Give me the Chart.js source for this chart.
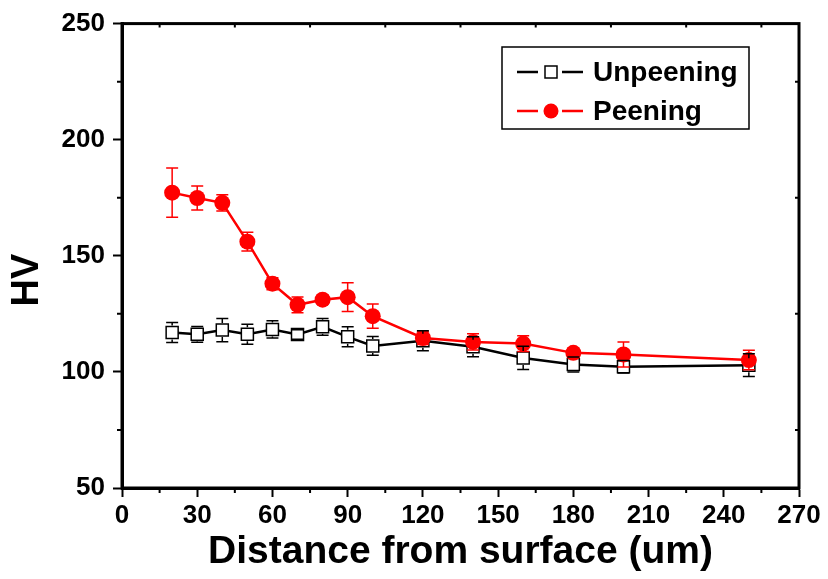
<!DOCTYPE html>
<html>
<head>
<meta charset="utf-8">
<script src="https://cdn.jsdelivr.net/npm/chart.js@4.4.1/dist/chart.umd.min.js"></script>
<style>
  html, body { margin: 0; padding: 0; background: #fff; }
  #wrap { width: 828px; height: 579px; }
</style>
</head>
<body>
<div id="wrap"><canvas id="myChart" width="828" height="579"></canvas></div>
<script>
const distance = [20, 30, 40, 50, 60, 70, 80, 90, 100, 120, 140, 160, 180, 200, 250];
const unpeening = [117, 116.2, 118, 116.2, 118.3, 116.1, 119.4, 115.1, 111.2, 113.4, 110.8, 106, 103.2, 102.2, 102.9];
const unpeeningErr = [4.3, 3.4, 5, 4.3, 3.7, 2, 3.6, 4.3, 4, 4.3, 4.3, 5, 3.2, 2.7, 4.9];
const peening = [177.2, 174.9, 172.8, 156.1, 138, 128.9, 131.1, 132.2, 124, 114.6, 112.9, 112.2, 108.2, 107.5, 105.1];
const peeningErr = [10.6, 5.2, 3.5, 4, 2.6, 3.4, 2, 6.2, 5.2, 2.8, 3.5, 3.4, 2, 5.4, 4.2];
const xMinorTicks = [15, 45, 75, 105, 135, 165, 195, 225, 255];
const yMinorTicks = [75, 125, 175, 225];
const yTitle = "HV";

const RED = "#ff0000";
const font = "'Liberation Sans', Arial, sans-serif";

function toPoints(xs, ys) {
    return xs.map((x, i) => ({ x: x, y: ys[i] }));
}

// error bars, minor ticks, frame, y title and the boxed legend
const extras = {
    id: "extras",
    afterDatasetsDraw(chart) {
        const ctx = chart.ctx;
        const xs = chart.scales.x;
        const ys = chart.scales.y;
        const area = chart.chartArea;

        function bars(vals, errs, color, gap) {
            ctx.save();
            ctx.strokeStyle = color;
            ctx.lineWidth = 1.5;
            distance.forEach((d, i) => {
                const px = xs.getPixelForValue(d);
                const py = ys.getPixelForValue(vals[i]);
                const top = ys.getPixelForValue(vals[i] + errs[i]);
                const bot = ys.getPixelForValue(vals[i] - errs[i]);
                ctx.beginPath();
                if (top < py - gap) { ctx.moveTo(px, top); ctx.lineTo(px, py - gap); }
                if (bot > py + gap) { ctx.moveTo(px, py + gap); ctx.lineTo(px, bot); }
                ctx.moveTo(px - 6, top); ctx.lineTo(px + 6, top);
                ctx.moveTo(px - 6, bot); ctx.lineTo(px + 6, bot);
                ctx.stroke();
            });
            ctx.restore();
        }
        bars(peening, peeningErr, RED, 0);
        bars(unpeening, unpeeningErr, "#000", 7);

        ctx.save();
        ctx.strokeStyle = "#000";
        ctx.lineWidth = 2;
        ctx.beginPath();
        xMinorTicks.forEach((v) => {
            const px = xs.getPixelForValue(v);
            ctx.moveTo(px, area.bottom); ctx.lineTo(px, area.bottom + 5);
            ctx.moveTo(px, area.top); ctx.lineTo(px, area.top + 4);
        });
        yMinorTicks.forEach((v) => {
            const py = ys.getPixelForValue(v);
            ctx.moveTo(area.left, py); ctx.lineTo(area.left - 5, py);
            ctx.moveTo(area.right, py); ctx.lineTo(area.right - 4, py);
        });
        ctx.stroke();
        ctx.lineWidth = 3;
        ctx.strokeRect(area.left, area.top, area.right - area.left, area.bottom - area.top);

        // y title, sits a bit below the middle of the axis
        ctx.save();
        ctx.translate(28, 280);
        ctx.rotate(-Math.PI / 2);
        ctx.fillStyle = "#000";
        ctx.font = "bold 38px " + font;
        ctx.textAlign = "center";
        ctx.textBaseline = "middle";
        ctx.fillText(yTitle, 0, 0);
        ctx.restore();

        // legend
        ctx.lineWidth = 1.5;
        ctx.strokeRect(502, 47, 247, 82);
        const rows = [
            { label: "Unpeening", color: "#000", y: 72, square: true },
            { label: "Peening", color: RED, y: 111, square: false },
        ];
        rows.forEach((r) => {
            ctx.strokeStyle = r.color;
            ctx.lineWidth = 2.5;
            ctx.beginPath();
            ctx.moveTo(517, r.y); ctx.lineTo(538, r.y);
            ctx.moveTo(562, r.y); ctx.lineTo(583, r.y);
            ctx.stroke();
            if (r.square) {
                ctx.fillStyle = "#fff";
                ctx.fillRect(545, r.y - 6, 12, 12);
                ctx.lineWidth = 1.5;
                ctx.strokeRect(545, r.y - 6, 12, 12);
            } else {
                ctx.fillStyle = RED;
                ctx.beginPath();
                ctx.arc(551, r.y, 7.5, 0, Math.PI * 2);
                ctx.fill();
            }
            ctx.fillStyle = "#000";
            ctx.font = "bold 28px " + font;
            ctx.textBaseline = "middle";
            ctx.textAlign = "left";
            ctx.fillText(r.label, 593, r.y + 1);
        });
        ctx.restore();
    },
};

const config = {
    type: "scatter",
    data: {
        datasets: [
            {
                label: "Peening",
                data: toPoints(distance, peening),
                showLine: true,
                borderColor: RED,
                backgroundColor: RED,
                borderWidth: 2.5,
                pointStyle: "circle",
                pointRadius: 8,
                pointBorderWidth: 0,
                pointBackgroundColor: RED,
                order: 0,
            },
            {
                label: "Unpeening",
                data: toPoints(distance, unpeening),
                showLine: true,
                borderColor: "#000",
                backgroundColor: "#fff",
                borderWidth: 2.5,
                pointStyle: "rect",
                pointRadius: 8.5,
                pointBorderWidth: 1.5,
                pointBorderColor: "#000",
                pointBackgroundColor: "#fff",
                order: 1,
            },
        ],
    },
    options: {
        responsive: false,
        animation: false,
        layout: {
            padding: { top: 23, right: 29, left: 0, bottom: 0 },
        },
        scales: {
            x: {
                type: "linear",
                min: 0,
                max: 270,
                afterFit: (s) => { s.height = 91; },
                border: { display: true, color: "#000", width: 3 },
                grid: { drawOnChartArea: false, color: "#000", tickLength: 9, tickWidth: 2 },
                ticks: {
                    stepSize: 30,
                    color: "#000",
                    padding: 3,
                    font: { family: font, size: 26, weight: "bold" },
                },
                title: {
                    display: true,
                    text: "Distance from surface (um)",
                    color: "#000",
                    padding: { top: 0, bottom: 3 },
                    font: { family: font, size: 39, weight: "bold" },
                },
            },
            y: {
                type: "linear",
                min: 50,
                max: 250,
                afterFit: (s) => { s.width = 122; },
                border: { display: true, color: "#000", width: 3 },
                grid: { drawOnChartArea: false, color: "#000", tickLength: 9, tickWidth: 2 },
                ticks: {
                    stepSize: 50,
                    color: "#000",
                    padding: 8,
                    font: { family: font, size: 26, weight: "bold" },
                },
            },
        },
        plugins: {
            legend: { display: false },
            tooltip: { enabled: false },
        },
    },
    plugins: [extras],
};

const myChart = new Chart(document.getElementById("myChart").getContext("2d"), config);
</script>
</body>
</html>
